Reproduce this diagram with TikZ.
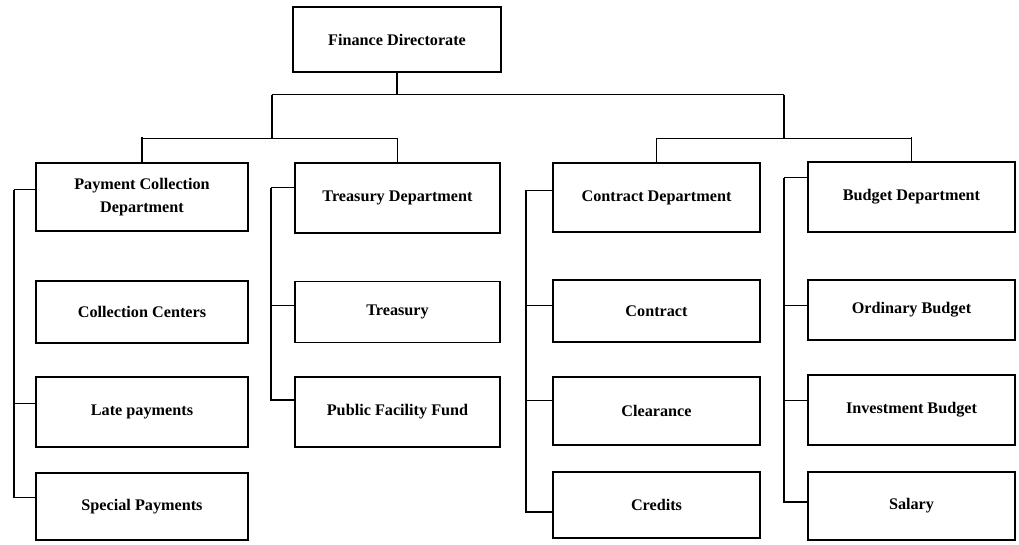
\documentclass[tikz,border=0pt]{standalone}
\usepackage{fontspec}
\setmainfont{Liberation Serif}
\begin{document}
\begin{tikzpicture}[x=1pt,y=-1pt,
  unit/.style={draw=black, line width=1.3pt, fill=white, inner sep=0pt,
    align=center, font=\fontsize{16.2}{23}\selectfont\bfseries},
  unitbold/.style={unit, line width=2pt},
  link/.style={line width=1pt},
  stem/.style={line width=1.8pt}]
\useasboundingbox (0,0) rectangle (1019,545);

% head of the directorate
\node[unit, minimum width=208pt, minimum height=65pt] (fd) at (397,39.5) {Finance Directorate};

% payment collection column
\node[unitbold, minimum width=212pt, minimum height=68pt] (pcd) at (142,197) {Payment Collection\\Department};
\node[unitbold, minimum width=212pt, minimum height=62pt] (cc)  at (142,312) {Collection Centers};
\node[unitbold, minimum width=212pt, minimum height=70pt] (lp)  at (142,412) {Late payments};
\node[unitbold, minimum width=212pt, minimum height=67pt] (sp)  at (142,506.5) {Special Payments};

% treasury column
\node[unit, minimum width=205pt, minimum height=70pt] (td)  at (397.5,198) {Treasury Department};
\node[unit, minimum width=205pt, minimum height=61pt] (tr)  at (397.5,312) {Treasury};
\node[unit, minimum width=205pt, minimum height=70pt] (pff) at (397.5,412) {Public Facility Fund};

% contract column
\node[unit, minimum width=207pt, minimum height=69pt] (cd)  at (656.5,197.5) {Contract Department};
\node[unit, minimum width=207pt, minimum height=62pt] (ct)  at (656.5,311) {Contract};
\node[unit, minimum width=207pt, minimum height=68pt] (cl)  at (656.5,411) {Clearance};
\node[unit, minimum width=207pt, minimum height=66pt] (cr)  at (656.5,505) {Credits};

% budget column
\node[unit, minimum width=207pt, minimum height=70pt] (bd)  at (911.5,197) {Budget Department};
\node[unit, minimum width=207pt, minimum height=60pt] (ob)  at (911.5,310) {Ordinary Budget};
\node[unit, minimum width=207pt, minimum height=70pt] (ib)  at (911.5,410) {Investment Budget};
\node[unit, minimum width=207pt, minimum height=68pt] (sal) at (911.5,506) {Salary};

% distribution bus under the directorate
\coordinate (busL) at (272,95);
\coordinate (busR) at (784,95);
\coordinate (jL) at (272,138.5);
\coordinate (jR) at (784,138.5);
\draw[stem] (fd.south) -- (fd.south |- busL);
\draw[link] (busL) -- (busR);
\draw[stem] (busL) -- (jL);
\draw[stem] (busR) -- (jR);
\draw[link] (jL) -| (pcd.north);
\draw[link] (jL) -| (td.north);
\draw[link] (jR) -| (cd.north);
\draw[link] (jR) -| (bd.north);
\draw[stem] (pcd.north) -- ++(0,-24.5);
\draw[stem] (td.north) -- ++(0,-24.5);
\draw[stem] (cd.north) -- ++(0,-24.5);
\draw[stem] (bd.north) -- ++(0,-24.5);

% side rails inside each column
\draw[link] ([yshift=7pt]pcd.west) -- ++(-21,0) coordinate (rp);
\draw[stem] (rp) |- ([yshift=9pt]sp.west);
\draw[link] ([yshift=9pt]lp.west) -- ++(-21,0);

\draw[link] ([yshift=10pt]td.west) -- ++(-23,0) coordinate (rt);
\draw[stem] (rt) |- ([yshift=12pt]pff.west);
\draw[link] ([yshift=7pt]tr.west) -- ++(-23,0);

\draw[link] ([yshift=7pt]cd.west) -- ++(-26,0) coordinate (rc);
\draw[stem] (rc) |- ([yshift=-7pt]cr.west);
\draw[link] ([yshift=6pt]ct.west) -- ++(-26,0);
\draw[link] ([yshift=11pt]cl.west) -- ++(-26,0);

\draw[link] ([yshift=19pt]bd.west) -- ++(-23,0) coordinate (rb);
\draw[stem] (rb) |- ([yshift=4pt]sal.west);
\draw[link] ([yshift=5pt]ob.west) -- ++(-23,0);
\draw[link] ([yshift=10pt]ib.west) -- ++(-23,0);
\end{tikzpicture}
\end{document}
